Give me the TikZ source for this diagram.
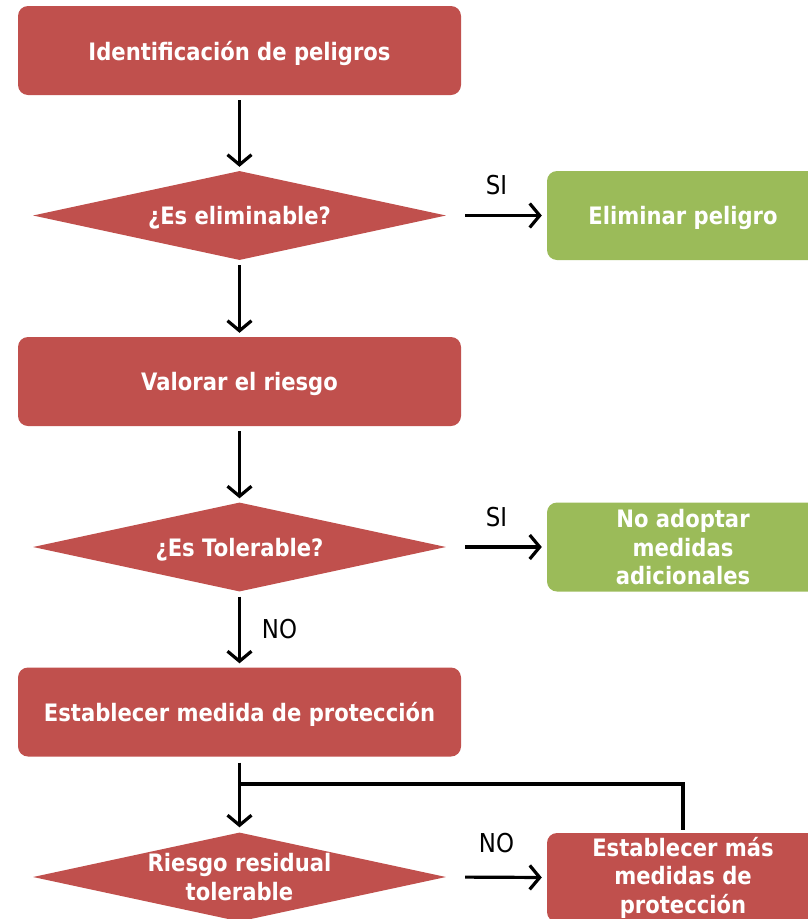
\documentclass[tikz,border=0pt]{standalone}
\usepackage{fontspec}
\setmainfont{DejaVu Sans}[FakeStretch=0.88]
\usetikzlibrary{shapes.geometric,arrows.meta}
\definecolor{boxred}{HTML}{C0504D}
\definecolor{boxgreen}{HTML}{9BBB59}
\begin{document}
\begin{tikzpicture}[x=1pt,y=-1pt,
  boxtext/.style={text=white, font=\fontsize{24}{28.5}\selectfont\bfseries, align=center, text depth=0pt},
  redbox/.style={rectangle, rounded corners=10pt, fill=boxred, minimum width=443pt, minimum height=89pt, inner sep=0pt, boxtext},
  greenbox/.style={redbox, fill=boxgreen, minimum width=272pt},
  decision/.style={diamond, fill=boxred, minimum width=413pt, minimum height=89pt, inner sep=0pt, aspect=4.64},
  arr/.style={line width=3.2pt, -{Straight Barb[length=10pt,width=24pt]}},
  lbl/.style={font=\fontsize{26}{28}\selectfont, inner sep=0pt}
]
\useasboundingbox (0,0) rectangle (808,919);

\node[redbox] (b1) at (239.5,50.5) {Identificación de peligros};
\node[decision] (d1) at (239.5,215.5) {};
\node[boxtext] (t1) at (d1.center) {¿Es eliminable?};
\node[greenbox] (g1) at (683,215.5) {Eliminar peligro};

\node[redbox] (b2) at (239.5,381.5) {Valorar el riesgo};
\node[decision] (d2) at (239.5,547) {};
\node[boxtext] (t2) at (d2.center) {¿Es Tolerable?};
\node[greenbox] (g2) at (683,547) {No adoptar\\medidas\\adicionales};

\node[redbox] (b3) at (239.5,712) {Establecer medida de protección};
\node[decision] (d3) at (239.5,877) {};
\node[boxtext] (t3) at (d3.center) {Riesgo residual\\tolerable};
\node[redbox, minimum width=272pt, text depth=] (b4) at (683,877.5) {Establecer más\\medidas de\\protección};

\draw[arr, shorten <=5pt, shorten >=4pt] (b1.south) -- (d1.north);
\draw[arr, shorten <=19pt, shorten >=5pt] (d1.east) -- (g1.west) node[lbl, midway, yshift=30pt] {SI};
\draw[arr, shorten <=5pt, shorten >=4pt] (d1.south) -- (b2.north);
\draw[arr, shorten <=5pt, shorten >=4pt] (b2.south) -- (d2.north);
\draw[arr, shorten <=19pt, shorten >=5pt] (d2.east) -- (g2.west) node[lbl, midway, yshift=30pt] {SI};
\draw[arr, shorten <=5pt, shorten >=4pt] (d2.south) -- (b3.north) node[lbl, midway, xshift=40pt] {NO};
\draw[arr, shorten <=6pt, shorten >=5pt] (b3.south) -- (d3.north);
\draw[arr, shorten <=19pt, shorten >=5pt] (d3.east) -- (b4.west) node[lbl, midway, yshift=34pt] {NO};
\coordinate (j) at (239.5,784);
\draw[line width=3.2pt, shorten <=3pt] (b4.north) |- (j);
\end{tikzpicture}
\end{document}
